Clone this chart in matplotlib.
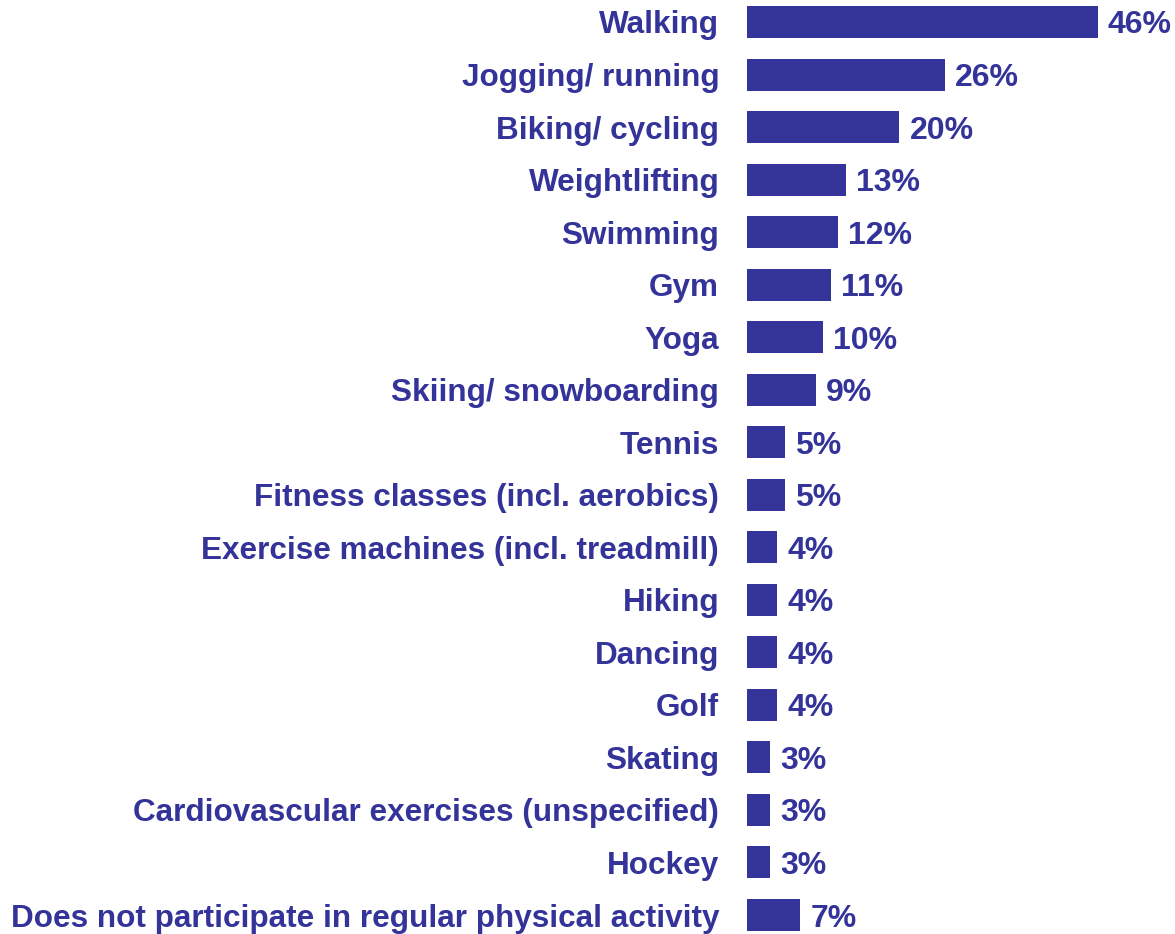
import matplotlib
matplotlib.use("Agg")
import matplotlib.pyplot as plt

activities = [
    "Walking",
    "Jogging/ running",
    "Biking/ cycling",
    "Weightlifting",
    "Swimming",
    "Gym",
    "Yoga",
    "Skiing/ snowboarding",
    "Tennis",
    "Fitness classes (incl. aerobics)",
    "Exercise machines (incl. treadmill)",
    "Hiking",
    "Dancing",
    "Golf",
    "Skating",
    "Cardiovascular exercises (unspecified)",
    "Hockey",
    "Does not participate in regular physical activity",
]
shares = [46, 26, 20, 13, 12, 11, 10, 9, 5, 5, 4, 4, 4, 4, 3, 3, 3, 7]

navy = "#333399"
W, H, DPI = 1175, 934, 100

plt.rcParams["font.family"] = ["Liberation Sans", "DejaVu Sans"]
plt.rcParams["font.weight"] = "bold"

fig = plt.figure(figsize=(W / DPI, H / DPI), dpi=DPI)
left_px = 747
ax = fig.add_axes([left_px / W, 0, 1 - left_px / W, 1])

px_per_unit = 7.62
row_px = 52.53
top_center = 22
ax.set_xlim(0, (W - left_px) / px_per_unit)
ax.set_ylim(len(activities) - 1 + (H - 915) / row_px, -top_center / row_px)

ypos = list(range(len(activities)))
ax.barh(ypos, shares, height=32 / row_px, color=navy, linewidth=0)

for y, v in zip(ypos, shares):
    ax.annotate(f"{v}%", (v, y), xytext=(7.2, 0), textcoords="offset points",
                ha="left", va="center_baseline", fontsize=23,
                fontweight="bold", color=navy)

ax.set_yticks(ypos)
ax.set_yticklabels(activities, fontsize=22.7, fontweight="bold", color=navy)
ax.tick_params(axis="y", length=0, pad=20)
ax.set_xticks([])
for s in ax.spines.values():
    s.set_visible(False)

fig.savefig("out.png", dpi=DPI, facecolor="white")
